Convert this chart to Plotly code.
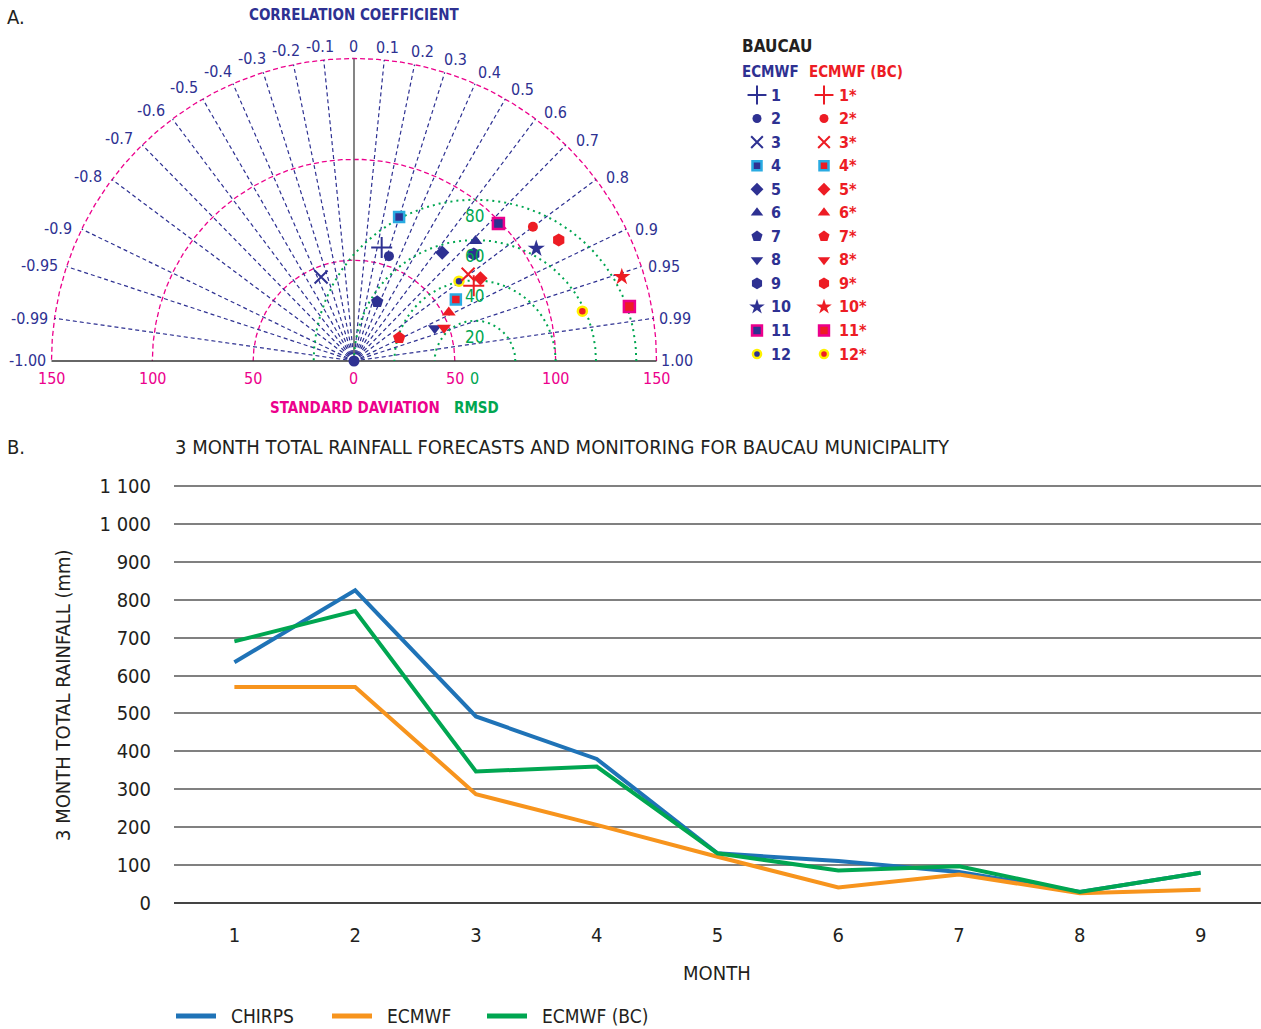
import numpy as np
import plotly.graph_objects as go

W, H = 1261, 1029
FONT = "Liberation Sans Narrow, DejaVu Sans Condensed, Roboto, sans-serif"

NAVY = "#2e3192"
RED = "#ed1c24"
MAGENTA = "#ec008c"
GREEN = "#00a651"
CYAN = "#29abe2"
YELLOW = "#fff200"

# ---------------- Panel A data (Taylor diagram) ----------------
MONTH_LABELS = ["1", "2", "3", "4", "5", "6", "7", "8", "9", "10", "11", "12"]
ECMWF_STD = [57.9, 54.8, 44.7, 74.8, 69.3, 84.7, 31.6, 43.2, 79.6, 106.2, 98.9, 65.4]
ECMWF_CORR = [0.237, 0.316, -0.365, 0.299, 0.631, 0.711, 0.364, 0.927, 0.746, 0.851, 0.724, 0.796]
BC_STD = [70.1, 110.9, 71.1, 59.0, 74.9, 52.8, 25.2, 47.6, 117.9, 139.2, 139.2, 115.9]
BC_CORR = [0.847, 0.800, 0.796, 0.856, 0.837, 0.890, 0.889, 0.938, 0.861, 0.954, 0.981, 0.977]
REF_STD = 60
CORR_TICKS = [-1.0, -0.99, -0.95, -0.9, -0.8, -0.7, -0.6, -0.5, -0.4, -0.3, -0.2, -0.1, 0.0,
              0.1, 0.2, 0.3, 0.4, 0.5, 0.6, 0.7, 0.8, 0.9, 0.95, 0.99, 1.0]
CORR_LABELS = ["-1.00", "-0.99", "-0.95", "-0.9", "-0.8", "-0.7", "-0.6", "-0.5", "-0.4", "-0.3",
               "-0.2", "-0.1", "0", "0.1", "0.2", "0.3", "0.4", "0.5", "0.6", "0.7", "0.8",
               "0.9", "0.95", "0.99", "1.00"]
STD_TICKS = [50, 100, 150]
STD_TICK_POS = [-150, -100, -50, 0, 50, 100, 150]
STD_TICK_TEXT = ["150", "100", "50", "0", "50", "100", "150"]
RMSD_TICKS = [20, 40, 60, 80]

# ---------------- Panel B data (line chart) ----------------
MONTHS_B = [1, 2, 3, 4, 5, 6, 7, 8, 9]
CHIRPS = [635, 825, 492, 380, 131, 111, 82, 29, 80]
ECMWF = [570, 570, 287, 206, 122, 41, 75, 26, 35]
ECMWF_BC = [690, 770, 347, 360, 131, 86, 97, 29, 80]
Y_TICKS = list(range(0, 1101, 100))
Y_TICK_TEXT = ["0", "100", "200", "300", "400", "500", "600", "700", "800", "900", "1 000", "1 100"]
SERIES_NAMES = ["CHIRPS", "ECMWF", "ECMWF (BC)"]
SERIES_COLORS = ["#1f73b7", "#f7941d", GREEN]

# marker styles per month
SYMBOLS = ["cross-thin", "circle", "x-thin", "square", "diamond", "triangle-up",
           "pentagon", "triangle-down", "hexagon", "star", "square", "circle"]
SIZES = [15, 10, 13, 10, 11, 12, 13, 12, 13, 13, 11, 9]
BORDERS = [None, None, None, CYAN, None, None, None, None, None, None, MAGENTA, YELLOW]


def line_styles(color):
    cols, widths = [], []
    for s, b in zip(SYMBOLS, BORDERS):
        if s.endswith("-thin"):
            cols.append(color); widths.append(2)
        elif b is not None:
            cols.append(b); widths.append(2.5)
        else:
            cols.append(color); widths.append(0)
    return cols, widths


fig = go.Figure()

# ---- Taylor geometry (axis x2/y2) ----
th = np.linspace(0, np.pi, 361)
for r in STD_TICKS:
    fig.add_trace(go.Scatter(x=r * np.cos(th), y=r * np.sin(th), mode="lines",
                             line=dict(color=MAGENTA, width=1.3, dash="5px,3px"),
                             xaxis="x2", yaxis="y2", showlegend=False, hoverinfo="skip",
                             cliponaxis=False))
cx, cy = [], []
for c in CORR_TICKS:
    if abs(c) in (0.0, 1.0):
        continue
    a = np.arccos(c)
    cx += [0, 150 * np.cos(a), None]
    cy += [0, 150 * np.sin(a), None]
fig.add_trace(go.Scatter(x=cx, y=cy, mode="lines",
                         line=dict(color=NAVY, width=1.2, dash="4px,3px"),
                         xaxis="x2", yaxis="y2", showlegend=False, hoverinfo="skip",
                         cliponaxis=False))
fig.add_trace(go.Scatter(x=[0, 0], y=[0, 150], mode="lines", line=dict(color="#666666", width=1.6),
                         xaxis="x2", yaxis="y2", showlegend=False, hoverinfo="skip", cliponaxis=False))
fig.add_trace(go.Scatter(x=[-150, 150], y=[0, 0], mode="lines", line=dict(color="#333333", width=1.6),
                         xaxis="x2", yaxis="y2", showlegend=False, hoverinfo="skip", cliponaxis=False))
for r in RMSD_TICKS:
    xs = REF_STD + r * np.cos(th)
    ys = r * np.sin(th)
    fig.add_trace(go.Scatter(x=xs, y=ys, mode="lines",
                             line=dict(color=GREEN, width=2, dash="2px,4px"),
                             xaxis="x2", yaxis="y2", showlegend=False, hoverinfo="skip",
                             cliponaxis=False))

fig.add_trace(go.Scatter(x=[0], y=[0], mode="markers", marker=dict(color=NAVY, size=11, opacity=1),
                         xaxis="x2", yaxis="y2", showlegend=False, hoverinfo="skip", cliponaxis=False))

for std, corr, color in ((ECMWF_STD, ECMWF_CORR, NAVY), (BC_STD, BC_CORR, RED)):
    s = np.array(std); c = np.array(corr)
    lc, lw = line_styles(color)
    fig.add_trace(go.Scatter(x=s * c, y=s * np.sqrt(1 - c ** 2), mode="markers",
                             marker=dict(symbol=SYMBOLS, size=SIZES, color=color, opacity=1,
                                         line=dict(color=lc, width=lw)),
                             xaxis="x2", yaxis="y2", showlegend=False, cliponaxis=False))

ann = []
for c, t in zip(CORR_TICKS, CORR_LABELS):
    a = np.arccos(c)
    w = len(t) * 4.0
    R = 152.0 + (w / 2) * abs(np.cos(a)) + 4.0 * np.sin(a)
    shift = np.radians(2.2) * np.sin(2 * a)
    al = a - shift
    ann.append(dict(x=R * np.cos(al), y=R * np.sin(al), xref="x2", yref="y2", text=t,
                    showarrow=False, xanchor="center", yanchor="middle",
                    font=dict(family=FONT, size=16, color=NAVY)))
for p, t in zip(STD_TICK_POS, STD_TICK_TEXT):
    ann.append(dict(x=p, y=-8.5, xref="x2", yref="y2", text=t, showarrow=False,
                    xanchor="center", yanchor="middle",
                    font=dict(family=FONT, size=16, color=MAGENTA)))
ann.append(dict(x=REF_STD, y=-8.5, xref="x2", yref="y2", text="0", showarrow=False,
                xanchor="center", yanchor="middle", font=dict(family=FONT, size=16, color=GREEN)))
for r in RMSD_TICKS:
    ann.append(dict(x=REF_STD, y=r - 8, xref="x2", yref="y2", text=str(r), showarrow=False,
                    xanchor="center", yanchor="middle",
                    font=dict(family=FONT, size=17, color=GREEN)))

# ---- Taylor legend (pixel overlay axis x3/y3) ----
ROW_Y = [95 + i * 23.55 for i in range(12)]
for xm, xl, color, suffix in ((757, 769, NAVY, ""), (824, 837, RED, "*")):
    lc, lw = line_styles(color)
    fig.add_trace(go.Scatter(x=[xm] * 12, y=ROW_Y, mode="markers",
                             marker=dict(symbol=SYMBOLS, size=[s * 0.9 for s in SIZES], color=color,
                                         opacity=1, line=dict(color=lc, width=lw)),
                             xaxis="x3", yaxis="y3", showlegend=False, hoverinfo="skip",
                             cliponaxis=False))
    for yv, m in zip(ROW_Y, MONTH_LABELS):
        ann.append(dict(x=xl, y=yv, xref="x3", yref="y3", text="<b>" + m + suffix + "</b>",
                        showarrow=False, xanchor="left", yanchor="middle",
                        font=dict(family=FONT, size=16, color=color)))


def ptext(x, y, t, size, color, xanchor="left"):
    ann.append(dict(x=x, y=y, xref="x3", yref="y3", text=t, showarrow=False,
                    xanchor=xanchor, yanchor="middle", font=dict(family=FONT, size=size, color=color)))


ptext(5, 17, "A.", 20, "#231f20")
ptext(354, 15, "<b>CORRELATION COEFFICIENT</b>", 15, NAVY, "center")
ptext(355, 408, "<b>STANDARD DAVIATION</b>", 15, MAGENTA, "center")
ptext(476, 408, "<b>RMSD</b>", 15, GREEN, "center")
ptext(740, 46, "<b>BAUCAU</b>", 17, "#231f20")
ptext(740, 72, "<b>ECMWF</b>", 15, NAVY)
ptext(807, 72, "<b>ECMWF (BC)</b>", 15, RED)
ptext(5, 447, "B.", 20, "#231f20")
ptext(173, 447, "3 MONTH TOTAL RAINFALL FORECASTS AND MONITORING FOR BAUCAU MUNICIPALITY", 20, "#231f20")
ptext(717, 973, "MONTH", 20, "#231f20", "center")
ann.append(dict(x=63, y=695, xref="x3", yref="y3", text="3 MONTH TOTAL RAINFALL (mm)",
                showarrow=False, textangle=-90, xanchor="center", yanchor="middle",
                font=dict(family=FONT, size=20, color="#231f20")))

# ---- Panel B lines ----
for name, vals, color in zip(SERIES_NAMES, (CHIRPS, ECMWF, ECMWF_BC), SERIES_COLORS):
    fig.add_trace(go.Scatter(x=MONTHS_B, y=vals, mode="lines", name=name,
                             line=dict(color=color, width=4), xaxis="x", yaxis="y",
                             showlegend=False))

# ---- Panel B legend (drawn in pixel overlay) ----
LEG_X = [174, 330, 485]
for x0, name, color in zip(LEG_X, SERIES_NAMES, SERIES_COLORS):
    fig.add_trace(go.Scatter(x=[x0 + 2, x0 + 42], y=[1016, 1016], mode="lines",
                             line=dict(color=color, width=5), xaxis="x3", yaxis="y3",
                             showlegend=False, hoverinfo="skip", cliponaxis=False))
    ptext(x0 + 55, 1016, name, 19, "#231f20")

# ---- layout ----
PX = 2.0167
ox, oy = 354, 361
XR = 175
x2_dom = [(ox - XR * PX) / W, (ox + XR * PX) / W]
y2_dom = [(H - (oy + 15 * PX)) / H, (H - (oy - 175 * PX)) / H]
pyb = 417 / 1100
yb_dom = [(H - (903 + 10 * pyb)) / H, (H - (486 - 10 * pyb)) / H]

fig.update_layout(
    width=W, height=H, margin=dict(l=0, r=0, t=0, b=0, autoexpand=False),
    paper_bgcolor="white", plot_bgcolor="rgba(0,0,0,0)",
    font=dict(family=FONT, color="#231f20"),
    xaxis=dict(domain=[174 / W, 1], range=[0.5, 9.5], tickvals=MONTHS_B, showgrid=False,
               zeroline=False, showline=False, ticks="", tickfont=dict(size=20, color="#231f20"),
               ticklabelstandoff=14, anchor="y", automargin=False),
    yaxis=dict(domain=yb_dom, range=[-10, 1110], tickvals=Y_TICKS, ticktext=Y_TICK_TEXT,
               showgrid=True, gridcolor="#808080", gridwidth=1.5, zeroline=True,
               zerolinecolor="#444444", zerolinewidth=1.5, showline=False, ticks="",
               tickfont=dict(size=20, color="#231f20"), ticklabelstandoff=22, anchor="x",
               automargin=False),
    xaxis2=dict(domain=x2_dom, range=[-XR, XR], visible=False, anchor="y2"),
    yaxis2=dict(domain=y2_dom, range=[-15, 175], visible=False, anchor="x2"),
    xaxis3=dict(domain=[0, 1], range=[0, W], visible=False, anchor="y3"),
    yaxis3=dict(domain=[0, 1], range=[H, 0], visible=False, anchor="x3"),
    annotations=ann,
    showlegend=False,
)

fig.write_html("out.html")
